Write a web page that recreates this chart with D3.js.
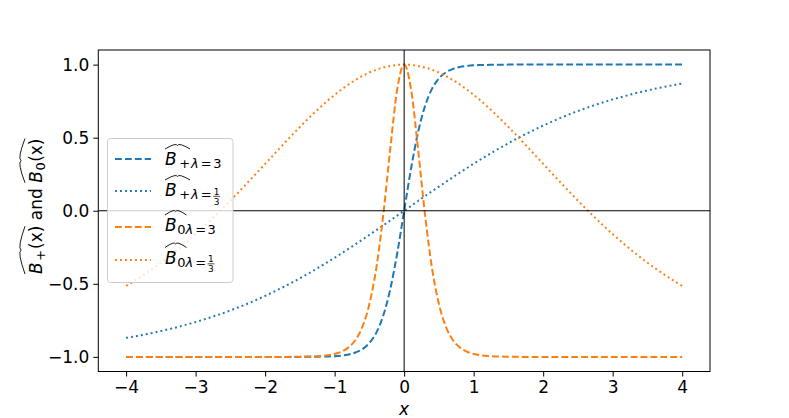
<!DOCTYPE html>
<html><head><meta charset="utf-8">
<script src="https://cdn.jsdelivr.net/npm/d3@7"></script>
<style>body{margin:0;background:#fff}svg{display:block}text{font-family:"DejaVu Sans",sans-serif}</style>
</head><body><svg id="c" width="789" height="418"></svg>
<script>
const xs = [-4.0,-3.9,-3.8,-3.7,-3.6,-3.5,-3.4,-3.3,-3.2,-3.1,-3.0,-2.9,-2.8,-2.7,-2.6,-2.5,-2.4,-2.3,-2.2,-2.1,-2.0,-1.9,-1.8,-1.7,-1.6,-1.5,-1.4,-1.3,-1.2,-1.1,-1.0,-0.9,-0.8,-0.7,-0.6,-0.5,-0.4,-0.3,-0.2,-0.1,0.0,0.1,0.2,0.3,0.4,0.5,0.6,0.7,0.8,0.9,1.0,1.1,1.2,1.3,1.4,1.5,1.6,1.7,1.8,1.9,2.0,2.1,2.2,2.3,2.4,2.5,2.6,2.7,2.8,2.9,3.0,3.1,3.2,3.3,3.4,3.5,3.6,3.7,3.8,3.9,4.0];
const bPlusL3 = [-1,-1,-1,-1,-1,-1,-1,-1,-1,-1,-1,-1,-1,-1,-1,-1,-1,-1,-1,-1,-1,-1,-1,-1.000,-1.000,-1.000,-0.999,-0.999,-0.998,-0.997,-0.995,-0.991,-0.984,-0.970,-0.947,-0.905,-0.834,-0.716,-0.537,-0.291,0,0.291,0.537,0.716,0.834,0.905,0.947,0.970,0.984,0.991,0.995,0.997,0.998,0.999,0.999,1.000,1.000,1.000,1,1,1,1,1,1,1,1,1,1,1,1,1,1,1,1,1,1,1,1,1,1,1];
const bPlusL13 = [-0.870,-0.862,-0.853,-0.844,-0.834,-0.823,-0.812,-0.801,-0.788,-0.775,-0.762,-0.747,-0.732,-0.716,-0.700,-0.682,-0.664,-0.645,-0.625,-0.604,-0.583,-0.560,-0.537,-0.513,-0.488,-0.462,-0.436,-0.408,-0.380,-0.351,-0.322,-0.291,-0.261,-0.229,-0.197,-0.165,-0.133,-0.100,-0.067,-0.033,0,0.033,0.067,0.100,0.133,0.165,0.197,0.229,0.261,0.291,0.322,0.351,0.380,0.408,0.436,0.462,0.488,0.513,0.537,0.560,0.583,0.604,0.625,0.645,0.664,0.682,0.700,0.716,0.732,0.747,0.762,0.775,0.788,0.801,0.812,0.823,0.834,0.844,0.853,0.862,0.870];
const b0L3 = [-1,-1,-1,-1,-1,-1,-1,-1,-1,-1,-1,-1,-1,-1,-1,-1,-1,-1,-1,-1,-1,-1,-1,-1.000,-0.999,-0.999,-0.998,-0.997,-0.994,-0.989,-0.980,-0.964,-0.935,-0.884,-0.793,-0.638,-0.390,-0.026,0.423,0.830,1.000,0.830,0.423,-0.026,-0.390,-0.638,-0.793,-0.884,-0.935,-0.964,-0.980,-0.989,-0.994,-0.997,-0.998,-0.999,-0.999,-1.000,-1,-1,-1,-1,-1,-1,-1,-1,-1,-1,-1,-1,-1,-1,-1,-1,-1,-1,-1,-1,-1,-1,-1];
const b0L13 = [-0.514,-0.485,-0.455,-0.423,-0.390,-0.356,-0.319,-0.282,-0.243,-0.202,-0.160,-0.117,-0.072,-0.026,0.021,0.069,0.118,0.168,0.219,0.269,0.321,0.372,0.423,0.474,0.524,0.573,0.621,0.667,0.711,0.754,0.793,0.830,0.864,0.895,0.922,0.946,0.965,0.980,0.991,0.998,1.000,0.998,0.991,0.980,0.965,0.946,0.922,0.895,0.864,0.830,0.793,0.754,0.711,0.667,0.621,0.573,0.524,0.474,0.423,0.372,0.321,0.269,0.219,0.168,0.118,0.069,0.021,-0.026,-0.072,-0.117,-0.160,-0.202,-0.243,-0.282,-0.319,-0.356,-0.390,-0.423,-0.455,-0.485,-0.514];
const xTicks = [-4,-3,-2,-1,0,1,2,3,4];
const yTicks = [-1.0,-0.5,0.0,0.5,1.0];

const BLUE="#1f77b4", ORANGE="#ff7f0e";
const series = [
  {vals:bPlusL3, color:BLUE, dash:"6.9,3"},
  {vals:bPlusL13, color:BLUE, dash:"1.9,3.1"},
  {vals:b0L3, color:ORANGE, dash:"6.9,3"},
  {vals:b0L13, color:ORANGE, dash:"1.9,3.1"}
];

const svg = d3.select("#c");
const L=98.3, R=710, T=50, B=371.5;
const x = d3.scaleLinear().domain([-4.4,4.4]).range([L,R]);
const y = d3.scaleLinear().domain([-1.1,1.1]).range([B,T]);
const FS=17, SUB=13;

const plot = svg.append("g");
plot.append("clipPath").attr("id","clip").append("rect").attr("x",L).attr("y",T).attr("width",R-L).attr("height",B-T);
const pg = plot.append("g").attr("clip-path","url(#clip)");
const line = d3.line().x((d,i)=>x(xs[i])).y(d=>y(d)).curve(d3.curveMonotoneX);
series.forEach(s=>{
  pg.append("path").attr("d",line(s.vals)).attr("fill","none").attr("stroke",s.color)
    .attr("stroke-width",2).attr("stroke-dasharray",s.dash);
});
pg.append("line").attr("x1",L).attr("x2",R).attr("y1",y(0)).attr("y2",y(0)).attr("stroke","#000").attr("stroke-width",1);
pg.append("line").attr("x1",x(0)).attr("x2",x(0)).attr("y1",T).attr("y2",B).attr("stroke","#000").attr("stroke-width",1);

const fmtMinus = s => s.replace("-","\u2212");
const xAxis = d3.axisBottom(x).tickValues(xTicks).tickSize(5).tickPadding(4).tickFormat(d=>fmtMinus(String(d)));
const yAxis = d3.axisLeft(y).tickValues(yTicks).tickSize(5).tickPadding(4).tickFormat(d=>fmtMinus(d3.format(".1f")(d)));
const gx = svg.append("g").attr("transform",`translate(0,${B})`).call(xAxis);
const gy = svg.append("g").attr("transform",`translate(${L},0)`).call(yAxis);
[gx,gy].forEach(g=>{
  g.select(".domain").remove();
  g.selectAll("line").attr("stroke","#000").attr("stroke-width",1);
  g.selectAll("text").attr("font-size",FS).attr("fill","#000").attr("font-family","DejaVu Sans");
});
svg.append("rect").attr("x",L).attr("y",T).attr("width",R-L).attr("height",B-T).attr("fill","none").attr("stroke","#000").attr("stroke-width",1);

function mathRuns(g, x0, base, runs){
  let cx = x0; const info=[];
  runs.forEach(r=>{
    if(r.frac){
      const fs=r.size;
      const t1=g.append("text").attr("font-size",fs).attr("text-anchor","middle").text(r.frac[0]);
      const t2=g.append("text").attr("font-size",fs).attr("text-anchor","middle").text(r.frac[1]);
      const w=Math.max(t1.node().getComputedTextLength(),t2.node().getComputedTextLength())+1;
      const mid=cx+w/2;
      t1.attr("x",mid).attr("y",base+r.dy-fs*0.45);
      t2.attr("x",mid).attr("y",base+r.dy+fs*0.65);
      g.append("line").attr("x1",cx).attr("x2",cx+w).attr("y1",base+r.dy-fs*0.3).attr("y2",base+r.dy-fs*0.3).attr("stroke","#000").attr("stroke-width",0.7);
      info.push({x0:cx,x1:cx+w}); cx+=w+(r.after||0);
    } else {
      const t=g.append("text").attr("x",cx).attr("y",base+(r.dy||0)).attr("font-size",r.size)
        .attr("font-style",r.italic?"italic":"normal").attr("xml:space","preserve").text(r.t);
      const w=t.node().getComputedTextLength();
      info.push({x0:cx,x1:cx+w}); cx+=w+(r.after||0);
    }
  });
  return info;
}
function hat(g,x0,x1,yb,h){
  g.append("path").attr("d",`M${x0},${yb} Q${(x0+x1)/2-(x1-x0)*0.05},${yb-h*1.9} ${(x0+x1)/2},${yb-h} Q${(x0+x1)/2+(x1-x0)*0.05},${yb-h*1.9} ${x1},${yb}`)
   .attr("fill","none").attr("stroke","#000").attr("stroke-width",0.9);
}

const lg = svg.append("g");
lg.append("rect").attr("x",107.5).attr("y",138.5).attr("width",125.5).attr("height",144).attr("rx",3)
  .attr("fill","#fff").attr("fill-opacity",0.8).attr("stroke","#ccc").attr("stroke-width",1);
const rows = [
  {s:series[0], base:165, ly:159, sub:"+", frac:null},
  {s:series[1], base:196, ly:191, sub:"+", frac:["1","3"]},
  {s:series[2], base:231, ly:227, sub:"0", frac:null},
  {s:series[3], base:263.5, ly:260, sub:"0", frac:["1","3"]}
];
rows.forEach(r=>{
  lg.append("line").attr("x1",115).attr("x2",151).attr("y1",r.ly).attr("y2",r.ly)
    .attr("stroke",r.s.color).attr("stroke-width",2).attr("stroke-dasharray",r.s.dash);
  const runs=[{t:"B",size:FS,italic:true,after:r.sub==="+"?2.5:0.5},
              {t:r.sub,size:SUB,dy:3,after:r.sub==="+"?1:0},
              {t:"λ",size:SUB,italic:true,dy:3,after:2},
              {t:"=",size:SUB,dy:3,after:1.5}];
  if(r.frac) runs.push({frac:r.frac,size:9,dy:3}); else runs.push({t:"3",size:SUB,dy:3});
  const info=mathRuns(lg,165,r.base,runs);
  hat(lg,info[0].x0,info[1].x1+(r.sub==="+"?0:1),r.base-16,3.5);
});

svg.append("text").attr("x",x(0)).attr("y",415).attr("text-anchor","middle").attr("font-size",FS).attr("font-style","italic").text("x");

const yl = svg.append("g").attr("transform","translate(42,274) rotate(-90)");
const yinfo = mathRuns(yl,0,0,[
  {t:"B",size:FS,italic:true,after:1.5},
  {t:"+",size:SUB,dy:3,after:1},
  {t:"(",size:FS},{t:"x",size:FS},{t:") and ",size:FS},
  {t:"B",size:FS,italic:true,after:0.5},
  {t:"0",size:SUB,dy:3,after:0.5},
  {t:"(",size:FS},{t:"x",size:FS},{t:")",size:FS}
]);
hat(yl,yinfo[0].x0,yinfo[4].x0+6,-17,4);
hat(yl,yinfo[5].x0,yinfo[9].x1,-17,4);
</script></body></html>
